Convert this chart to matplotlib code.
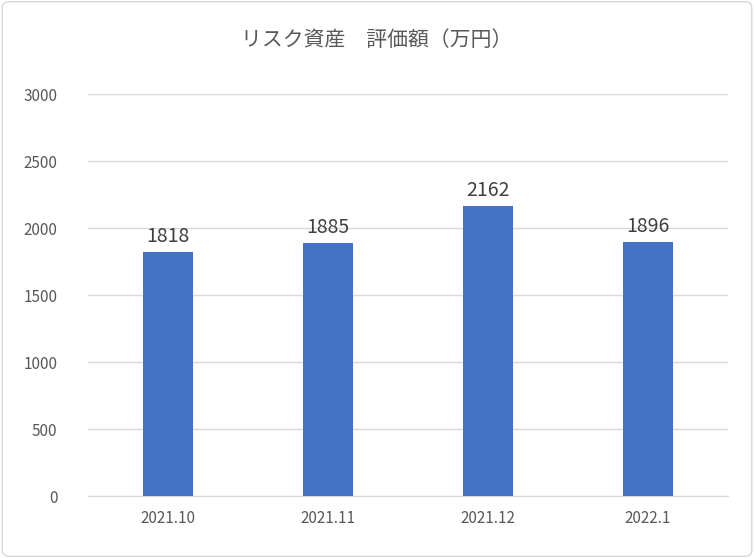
import matplotlib.pyplot as plt
from matplotlib.patches import FancyBboxPatch

# Data
months = ["2021.10", "2021.11", "2021.12", "2022.1"]
values = [1818, 1885, 2162, 1896]
yticks = [0, 500, 1000, 1500, 2000, 2500, 3000]

plt.rcParams['font.family'] = ['Noto Sans CJK JP', 'DejaVu Sans']

fig = plt.figure(figsize=(7.54, 5.58), dpi=100)
fig.patches.append(FancyBboxPatch((0.003, 0.003), 0.994, 0.994, boxstyle="round,pad=0,rounding_size=0.01",
                                  transform=fig.transFigure, fill=False, edgecolor="#d9d9d9", linewidth=1))
ax = fig.add_axes([0.1167, 0.1111, 0.8488, 0.7204])

x = range(len(months))
bars = ax.bar(x, values, width=0.31, color="#4472c4", zorder=3)
for i, v in enumerate(values):
    ax.text(i, v + 40, str(v), ha="center", va="bottom", fontsize=14, color="#404040")

ax.set_xlim(-0.5, len(months) - 0.5)
ax.set_ylim(0, 3000)
ax.set_yticks(yticks)
ax.set_xticks(list(x))
ax.set_xticklabels(months)
ax.grid(axis="y", color="#d9d9d9", linewidth=1, zorder=0)
for s in ["top", "right", "left"]:
    ax.spines[s].set_visible(False)
ax.spines["bottom"].set_color("#d9d9d9")
ax.tick_params(axis="both", length=0, labelsize=11, labelcolor="#595959")
ax.tick_params(axis="y", pad=22)
ax.tick_params(axis="x", pad=10)

fig.text(0.5, 0.928, "リスク資産　評価額（万円）", ha="center", va="center", fontsize=15, color="#595959")

fig.savefig("out.png", dpi=100)
